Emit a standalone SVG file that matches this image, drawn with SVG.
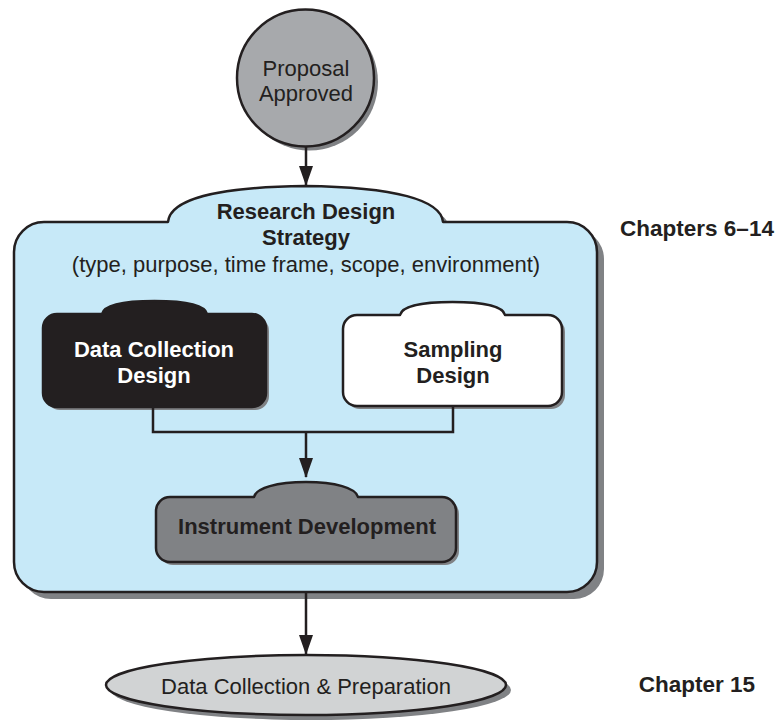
<svg xmlns="http://www.w3.org/2000/svg" width="777" height="721" viewBox="0 0 777 721">
<defs>
<style>
.st{stroke:#231f20;stroke-width:2.5;stroke-linejoin:round}
.sh{fill:#808285}
.t{font-family:"Liberation Sans",Arial,Helvetica,sans-serif;font-size:22px;fill:#231f20;text-anchor:middle}
.b{font-weight:bold}
.w{fill:#ffffff}
.ln{fill:none;stroke:#231f20;stroke-width:2.5}
</style>
<marker id="ah" markerUnits="userSpaceOnUse" markerWidth="20" markerHeight="14" refX="19" refY="7" orient="auto" viewBox="0 0 20 14">
<path d="M0,0 L20,7 L0,14 Z" fill="#231f20"/>
</marker>
</defs>
<rect width="777" height="721" fill="#ffffff"/>

<g id="proposal">
<circle cx="309.5" cy="82" r="68.5" class="sh"/>
<circle cx="305.5" cy="78" r="68.5" fill="#a7a9ac" class="st"/>
<text class="t" x="306" y="76">Proposal</text>
<text class="t" x="306" y="101">Approved</text>
</g>

<g id="strategy">
<path class="sh" transform="translate(7,7)" d="M44,222 H168 C170,200 215,187 305,186 C395,187 441,200 443,222 H567 A30,30 0 0 1 597,252 V562 A30,30 0 0 1 567,592 H44 A30,30 0 0 1 14,562 V252 A30,30 0 0 1 44,222 Z"/>
<path class="st" fill="#c7e9f8" d="M44,222 H168 C170,200 215,187 305,186 C395,187 441,200 443,222 H567 A30,30 0 0 1 597,252 V562 A30,30 0 0 1 567,592 H44 A30,30 0 0 1 14,562 V252 A30,30 0 0 1 44,222 Z"/>
<text class="t b" x="306" y="219">Research Design</text>
<text class="t b" x="306" y="245">Strategy</text>
<text class="t" x="306" y="272">(type, purpose, time frame, scope, environment)</text>
</g>

<g id="datacollection">
<path class="sh" transform="translate(3,3)" d="M57,314 H102 C104,305 125,301 154.5,301 C184,301 205,305 207,314 H252 A14,14 0 0 1 266,328 V393 A14,14 0 0 1 252,407 H57 A14,14 0 0 1 43,393 V328 A14,14 0 0 1 57,314 Z"/>
<path class="st" fill="#231f20" d="M57,314 H102 C104,305 125,301 154.5,301 C184,301 205,305 207,314 H252 A14,14 0 0 1 266,328 V393 A14,14 0 0 1 252,407 H57 A14,14 0 0 1 43,393 V328 A14,14 0 0 1 57,314 Z"/>
<text class="t b w" x="154" y="357">Data Collection</text>
<text class="t b w" x="154" y="383">Design</text>
</g>

<g id="sampling">
<path class="sh" transform="translate(3,3)" d="M357,315 H400 C402,306 423,302 452.5,302 C482,302 503,306 505,315 H548 A14,14 0 0 1 562,329 V392 A14,14 0 0 1 548,406 H357 A14,14 0 0 1 343,392 V329 A14,14 0 0 1 357,315 Z"/>
<path class="st" fill="#ffffff" d="M357,315 H400 C402,306 423,302 452.5,302 C482,302 503,306 505,315 H548 A14,14 0 0 1 562,329 V392 A14,14 0 0 1 548,406 H357 A14,14 0 0 1 343,392 V329 A14,14 0 0 1 357,315 Z"/>
<text class="t b" x="453" y="357">Sampling</text>
<text class="t b" x="453" y="383">Design</text>
</g>

<g id="instrument">
<path class="sh" transform="translate(3,3)" d="M170,497 H254 C256,488 277,482 306,482 C335,482 356,488 358,497 H442 A14,14 0 0 1 456,511 V548 A14,14 0 0 1 442,562 H170 A14,14 0 0 1 156,548 V511 A14,14 0 0 1 170,497 Z"/>
<path class="st" fill="#808285" d="M170,497 H254 C256,488 277,482 306,482 C335,482 356,488 358,497 H442 A14,14 0 0 1 456,511 V548 A14,14 0 0 1 442,562 H170 A14,14 0 0 1 156,548 V511 A14,14 0 0 1 170,497 Z"/>
<text class="t b" x="307" y="534">Instrument Development</text>
</g>

<g id="datacollectionprep">
<ellipse cx="311" cy="690" rx="200" ry="30" class="sh"/>
<ellipse cx="306" cy="685" rx="200" ry="30" fill="#d1d3d4" class="st"/>
<text class="t" x="306" y="694">Data Collection &amp; Preparation</text>
</g>

<g id="labels">
<text class="t b" x="697" y="236" style="font-size:22.5px">Chapters 6–14</text>
<text class="t b" x="697" y="692" style="font-size:22.5px">Chapter 15</text>
</g>

<g id="connectors">
<line class="ln" x1="306" y1="147" x2="306" y2="185" marker-end="url(#ah)"/>
<polyline class="ln" points="153,407 153,432 453,432 453,406"/>
<line class="ln" x1="306" y1="432" x2="306" y2="477" marker-end="url(#ah)"/>
<line class="ln" x1="306" y1="593" x2="306" y2="654" marker-end="url(#ah)"/>
</g>
</svg>
